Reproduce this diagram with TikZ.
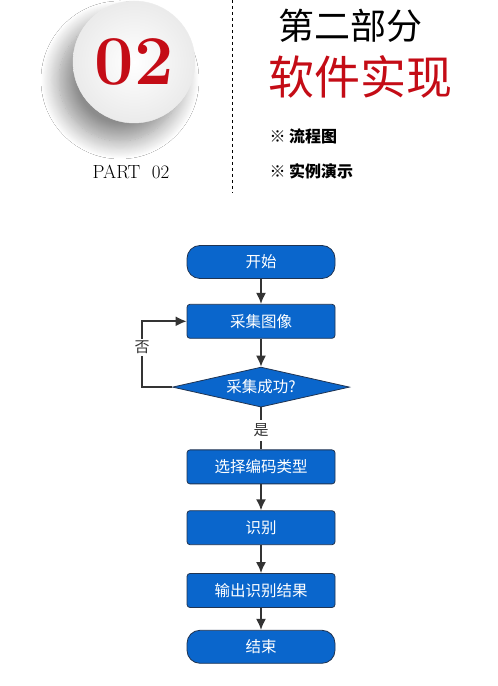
\documentclass[tikz,border=0pt]{standalone}
\usepackage{fontspec}
\newfontfamily\cjk{Noto Sans CJK SC}
\usetikzlibrary{arrows.meta,positioning,shapes.geometric,shadows.blur}
\definecolor{flowblue}{RGB}{10,102,204}
\definecolor{flowedge}{RGB}{32,52,82}
\definecolor{titlered}{RGB}{196,12,22}
\definecolor{arrowgray}{RGB}{52,52,52}

\begin{document}
\begin{tikzpicture}[x=1pt,y=1pt,>=Latex,node distance=25pt,
  stepbox/.style={draw=flowedge,thick,fill=flowblue,rounded corners=3pt,
    minimum width=148pt,minimum height=34pt,text=white,
    font=\cjk\fontsize{15.5}{15.5}\selectfont},
  termbox/.style={stepbox,rounded corners=13pt,minimum height=33pt},
  flowarrow/.style={-{Latex[length=11pt,width=10pt]},arrowgray,line width=1.6pt}
]
  \useasboundingbox[fill=white] (0,0) rectangle (498,686);

  % header
  \node[circle,minimum size=122pt,draw=gray!15,shading=radial,
    inner color=white,outer color=gray!16,
    blur shadow={shadow xshift=-14pt,shadow yshift=-18pt,
      shadow blur radius=18pt,shadow blur steps=20,shadow opacity=45},
    text=titlered,font=\fontsize{70}{70}\selectfont\bfseries] (badge) at (134,624) {02};
  \node[font=\fontsize{19}{19}\selectfont] (partno) at (131,514) {PART\ \ 02};
  \coordinate (divtop) at (232,686);
  \coordinate (divbot) at (232,493);
  \draw[dashed,thick] (divtop) -- (divbot);
  \node[font=\cjk\fontsize{36}{36}\selectfont] (part) at (350,660) {第二部分};
  \node[font=\cjk\fontsize{46}{46}\selectfont,text=titlered] (title) at (360,609) {软件实现};
  \node[anchor=west,font=\cjk\fontsize{16}{16}\selectfont\bfseries] (item1) at (266,550) {※\ 流程图};
  \node[anchor=west,font=\cjk\fontsize{16}{16}\selectfont\bfseries] (item2) at (266,515) {※\ 实例演示};

  % flow chart
  \node[termbox] (start) at (261,424) {开始};
  \node[stepbox,below=of start] (capture) {采集图像};
  \node[diamond,aspect=4.4,inner sep=1pt,minimum width=177pt,minimum height=40pt,
    draw=flowedge,thick,fill=flowblue,text=white,
    font=\cjk\fontsize{15.5}{15.5}\selectfont,below=28pt of capture] (check) {采集成功?};
  \node[stepbox,below=42pt of check] (select) {选择编码类型};
  \node[stepbox,below=26pt of select] (recog) {识别};
  \node[stepbox,below=28pt of recog] (output) {输出识别结果};
  \node[termbox,below=22pt of output] (finish) {结束};

  \draw[flowarrow] (start) -- (capture);
  \draw[flowarrow] (capture) -- (check);
  \coordinate[left=30pt of check.west] (loop);
  \draw[flowarrow] (check.west) -- (loop) |- node[pos=0.3,fill=white,inner sep=2pt,
    font=\cjk\fontsize{15}{15}\selectfont] {否} (capture.west);
  \draw[arrowgray,line width=1.6pt] (check.south) -- node[pos=0.55,fill=white,inner sep=4pt,
    font=\cjk\fontsize{15}{15}\selectfont] {是} (select.north);
  \draw[flowarrow] (select) -- (recog);
  \draw[flowarrow] (recog) -- (output);
  \draw[flowarrow] (output) -- (finish);
\end{tikzpicture}
\end{document}
